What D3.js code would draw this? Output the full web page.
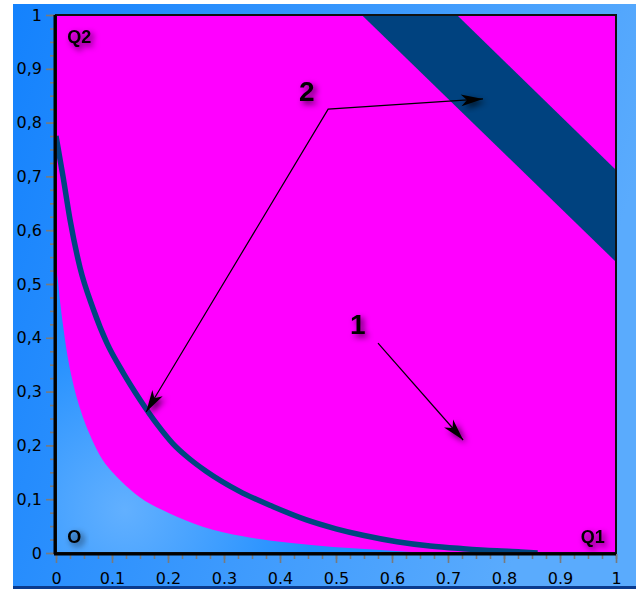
<!DOCTYPE html>
<html><head><meta charset="utf-8">
<script src="https://cdn.jsdelivr.net/npm/d3@7"></script>
<style>html,body{margin:0;padding:0;background:#fff;overflow:hidden}</style>
</head><body>
<script>
// ---- data ----
const xTickValues = [0,0.1,0.2,0.3,0.4,0.5,0.6,0.7,0.8,0.9,1];
const xTickLabels = ["0","0.1","0.2","0.3","0.4","0.5","0.6","0.7","0.8","0.9","1"];
const yTickValues = [0,0.1,0.2,0.3,0.4,0.5,0.6,0.7,0.8,0.9,1];
const yTickLabels = ["0","0,1","0,2","0,3","0,4","0,5","0,6","0,7","0,8","0,9","1"];
// lower-left (region O) boundary
const boundX = [0,0.003,0.007,0.013,0.02,0.03,0.045,0.066,0.084,0.1,0.116,0.149,0.202,0.262,0.334,0.416,0.495,0.566,0.62,0.68,1];
const boundY = [0.53,0.51,0.47,0.42,0.37,0.318,0.262,0.207,0.172,0.151,0.134,0.104,0.074,0.049,0.031,0.019,0.011,0.0065,0.003,0,0];
// dark curve (2, lower)
const curveX = [0,0.0125,0.025,0.043,0.066,0.091,0.12,0.15,0.18,0.209,0.235,0.268,0.327,0.388,0.446,0.5,0.548,0.609,0.668,0.727,0.787,0.83,0.86];
const curveY = [0.775,0.70,0.62,0.53,0.455,0.39,0.335,0.285,0.24,0.203,0.178,0.152,0.115,0.086,0.062,0.045,0.033,0.021,0.013,0.008,0.004,0.002,0];
// diagonal band (2, upper)
const bandLowerX = [0.546,1], bandLowerY = [1,0.541];
const bandUpperX = [0.716,1], bandUpperY = [1,0.712];
// annotations
const arrow2X = [0.7625,0.486,0.161], arrow2Y = [0.844,0.825,0.262];
const arrow1X = [0.575,0.727], arrow1Y = [0.390,0.210];
const labelNames = ["2","1"], labelX = [0.448,0.539], labelY = [0.857,0.424];
const cornerNames = ["Q2","O","Q1"], cornerX = [0.02,0.02,0.98], cornerY = [0.96,0.03,0.03];

// ---- drawing ----
const W=642,H=589;
const svg=d3.select("body").append("svg").attr("width",W).attr("height",H);
const defs=svg.append("defs");
const lg=defs.append("linearGradient").attr("id","bg").attr("x1","0").attr("y1","0").attr("x2","1").attr("y2","0.3");
lg.append("stop").attr("offset","0").attr("stop-color","#1482fd");
lg.append("stop").attr("offset","1").attr("stop-color","#5aabfd");
const rg=defs.append("radialGradient").attr("id","blueO").attr("gradientUnits","userSpaceOnUse")
  .attr("cx",125).attr("cy",510).attr("r",190);
rg.append("stop").attr("offset","0").attr("stop-color","#62b0ff");
rg.append("stop").attr("offset","1").attr("stop-color","#1e8dff");
const f=defs.append("filter").attr("id","shadow").attr("x","-50%").attr("y","-50%").attr("width","200%").attr("height","200%");
f.append("feDropShadow").attr("dx",3).attr("dy",3).attr("stdDeviation",3).attr("flood-color","#000").attr("flood-opacity",0.7);
const x=d3.scaleLinear([0,1],[56,616]);
const y=d3.scaleLinear([0,1],[553,15]);
defs.append("clipPath").attr("id","plotclip").append("rect")
  .attr("x",x(0)).attr("y",y(1)).attr("width",x(1)-x(0)).attr("height",y(0)-y(1));

svg.append("rect").attr("x",13).attr("y",4).attr("width",623).attr("height",585).attr("fill","url(#bg)");
svg.append("rect").attr("x",13).attr("y",586).attr("width",623).attr("height",3).attr("fill","#0a3b8e");

const plot=svg.append("g").attr("clip-path","url(#plotclip)");
plot.append("rect").attr("x",x(0)).attr("y",y(1)).attr("width",x(1)-x(0)).attr("height",y(0)-y(1)).attr("fill","url(#blueO)");
const bound=boundX.map((v,i)=>[v,boundY[i]]);
plot.append("path").datum(bound)
  .attr("d",d3.area().x(d=>x(d[0])).y0(y(1)).y1(d=>y(d[1])).curve(d3.curveMonotoneX))
  .attr("fill","#ff00ff");
plot.append("rect").attr("x",x(0)-2).attr("y",y(1)).attr("width",3).attr("height",y(boundY[0])-y(1)).attr("fill","#ff00ff");
const band=[[bandLowerX[0],bandLowerY[0]],[bandUpperX[0],bandUpperY[0]],[bandUpperX[1],bandUpperY[1]],[bandLowerX[1],bandLowerY[1]]];
plot.append("path").attr("d",d3.line().x(d=>x(d[0])).y(d=>y(d[1]))(band)+"Z").attr("fill","#00427f");
const curve=curveX.map((v,i)=>[v,curveY[i]]);
plot.append("path").datum(curve).attr("d",d3.line().x(d=>x(d[0])).y(d=>y(d[1])).curve(d3.curveMonotoneX))
  .attr("fill","none").attr("stroke","#004580").attr("stroke-width",5.5);

// arrows
function arrowHead(g,p0,p1){
  const a=Math.atan2(p1[1]-p0[1],p1[0]-p0[0]);
  const L=22,hw=6;
  const bx=p1[0]-L*Math.cos(a), by=p1[1]-L*Math.sin(a);
  const pts=[[p1[0],p1[1]],[bx+hw*Math.sin(a),by-hw*Math.cos(a)],[p1[0]-(L-6)*Math.cos(a),p1[1]-(L-6)*Math.sin(a)],[bx-hw*Math.sin(a),by+hw*Math.cos(a)]];
  g.append("path").attr("d","M"+pts.join("L")+"Z").attr("fill","#000").attr("filter","url(#shadow)");
}
const ann=svg.append("g");
const a2=arrow2X.map((v,i)=>[x(v),y(arrow2Y[i])]);
ann.append("path").attr("d",d3.line()([a2[0],a2[1],a2[2]])).attr("fill","none").attr("stroke","#000").attr("stroke-width",1.2);
arrowHead(ann,a2[1],a2[0]); arrowHead(ann,a2[1],a2[2]);
const a1=arrow1X.map((v,i)=>[x(v),y(arrow1Y[i])]);
ann.append("path").attr("d",d3.line()(a1)).attr("fill","none").attr("stroke","#000").attr("stroke-width",1.2);
arrowHead(ann,a1[0],a1[1]);
labelNames.forEach((t,i)=>{
  ann.append("text").attr("x",x(labelX[i])).attr("y",y(labelY[i])).attr("text-anchor","middle").attr("dominant-baseline","central")
   .attr("font-family","Liberation Sans, Arial, sans-serif").attr("font-weight","bold").attr("font-size",28)
   .attr("fill","#000").attr("filter","url(#shadow)").text(t);
});
cornerNames.forEach((t,i)=>{
  ann.append("text").attr("x",x(cornerX[i])).attr("y",y(cornerY[i])).attr("text-anchor",i==2?"end":"start").attr("dominant-baseline","central")
   .attr("font-family","Liberation Sans, Arial, sans-serif").attr("font-weight","bold").attr("font-size",18)
   .attr("fill","#000").attr("filter","url(#shadow)").text(t);
});

// frame
svg.append("rect").attr("x",x(0)).attr("y",y(1)).attr("width",x(1)-x(0)).attr("height",y(0)-y(1))
  .attr("fill","none").attr("stroke","#111").attr("stroke-width",2);

// axes
const minor=d3.range(0,41).map(i=>i/40);
const gxm=svg.append("g").attr("transform",`translate(0,${y(0)+1})`).call(d3.axisBottom(x).tickValues(minor).tickSize(5).tickFormat(""));
const gx=svg.append("g").attr("transform",`translate(0,${y(0)+1})`).call(d3.axisBottom(x).tickValues(xTickValues).tickSize(9).tickPadding(10).tickFormat((d,i)=>xTickLabels[i]));
const gym=svg.append("g").attr("transform",`translate(${x(0)-1},0)`).call(d3.axisLeft(y).tickValues(minor).tickSize(5).tickFormat(""));
const gy=svg.append("g").attr("transform",`translate(${x(0)-1},0)`).call(d3.axisLeft(y).tickValues(yTickValues).tickSize(9).tickPadding(4).tickFormat((d,i)=>yTickLabels[i]));
[gxm,gx,gym,gy].forEach(g=>{g.select(".domain").remove();g.selectAll(".tick line").attr("stroke","#7a7a7a").attr("stroke-width",1.6);});
[gx,gy].forEach(g=>g.selectAll("text").attr("font-family","DejaVu Sans, Verdana, sans-serif").attr("font-size",16).attr("fill","#000"));
svg.append("line").attr("x1",x(0)-1).attr("x2",x(0)-1).attr("y1",y(1)).attr("y2",y(0)+1).attr("stroke","#000").attr("stroke-width",3);
svg.append("line").attr("x1",x(0)-2).attr("x2",x(1)).attr("y1",y(0)+1).attr("y2",y(0)+1).attr("stroke","#000").attr("stroke-width",3);
</script>
</body></html>
